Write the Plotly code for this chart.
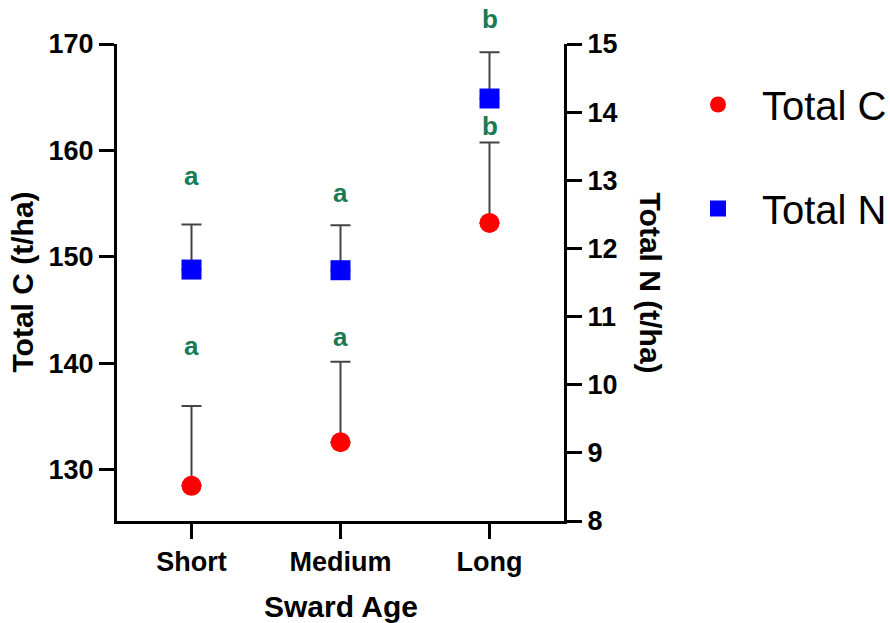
import plotly.graph_objects as go

# ---- data ----
categories = ["Short", "Medium", "Long"]
total_c = [128.5, 132.6, 153.2]          # t/ha, left axis
total_c_err = [7.5, 7.55, 7.55]          # upper error
total_n = [11.69, 11.68, 14.20]          # t/ha, right axis
total_n_err = [0.66, 0.66, 0.68]
letters_c = ["a", "a", "b"]
letters_c_pos = [141.6, 142.5, 162.3]    # label positions on C axis
letters_n = ["a", "a", "b"]
letters_n_pos = [13.06, 12.81, 15.37]    # label positions on N axis

left_ticks = [130, 140, 150, 160, 170]
right_ticks = [8, 9, 10, 11, 12, 13, 14, 15]
c_range = [125.2, 170]
n_range = [8, 15]

FONT = "Liberation Sans, Arial, sans-serif"
GREEN = "#1a7a52"

W, H = 890, 623
ML, MR, MT, MB = 117, 326, 44, 102
PW, PH = W - ML - MR, H - MT - MB


def px_x(px):
    return (px - ML) / PW


def px_y(py):
    return (H - MB - py) / PH


def to_paper(v, rng):
    return (v - rng[0]) / (rng[1] - rng[0])


fig = go.Figure()

fig.add_trace(go.Scatter(
    x=categories, y=total_c, name="Total C", mode="markers",
    marker=dict(symbol="circle", size=20, color="#ff0000"),
    error_y=dict(type="data", symmetric=False, array=total_c_err,
                 arrayminus=[0, 0, 0], color="#444444", thickness=2, width=10),
    legendgroup="c", yaxis="y",
))
fig.add_trace(go.Scatter(
    x=categories, y=total_n, name="Total N", mode="markers",
    marker=dict(symbol="square", size=20, color="#0000ff"),
    error_y=dict(type="data", symmetric=False, array=total_n_err,
                 arrayminus=[0, 0, 0], color="#444444", thickness=2, width=10),
    legendgroup="n", yaxis="y2",
))

letter_font = dict(family=FONT, size=26, color=GREEN, weight="bold")
annotations = []
for cat, lt, yv in zip(categories, letters_c, letters_c_pos):
    annotations.append(dict(x=cat, y=to_paper(yv, c_range), xref="x", yref="paper",
                            text=lt, showarrow=False, yanchor="middle", font=letter_font))
for cat, lt, yv in zip(categories, letters_n, letters_n_pos):
    annotations.append(dict(x=cat, y=to_paper(yv, n_range), xref="x", yref="paper",
                            text=lt, showarrow=False, yanchor="middle", font=letter_font))

title_font = dict(family=FONT, size=30, color="black", weight="bold")
annotations.append(dict(text="Sward Age", x=0.5, y=px_y(606), xref="paper", yref="paper",
                        showarrow=False, xanchor="center", yanchor="middle", font=title_font))
annotations.append(dict(text="Total C (t/ha)", x=px_x(22), y=0.5, xref="paper", yref="paper",
                        textangle=-90, showarrow=False, xanchor="center", yanchor="middle",
                        font=title_font))
annotations.append(dict(text="Total N (t/ha)", x=px_x(650), y=0.5, xref="paper", yref="paper",
                        textangle=90, showarrow=False, xanchor="center", yanchor="middle",
                        font=title_font))

axis_common = dict(showgrid=False, zeroline=False, showline=True, linecolor="black",
                   linewidth=3, ticks="outside", ticklen=15, tickwidth=3, tickcolor="black",
                   tickfont=dict(family=FONT, size=27, color="black", weight="bold"))

fig.update_layout(
    width=W, height=H,
    margin=dict(l=ML, r=MR, t=MT, b=MB, autoexpand=False),
    paper_bgcolor="white", plot_bgcolor="white",
    showlegend=True,
    legend=dict(x=px_x(674), y=px_y(72), xanchor="left", yanchor="top",
                font=dict(family=FONT, size=40, color="black"),
                itemwidth=78, tracegroupgap=49, bgcolor="rgba(0,0,0,0)"),
    xaxis=dict(type="category", categoryorder="array", categoryarray=categories,
               range=[-0.5, 2.5], **axis_common),
    yaxis=dict(range=c_range, tickvals=left_ticks, **axis_common),
    yaxis2=dict(range=n_range, tickvals=right_ticks, overlaying="y", side="right",
                anchor="x", **axis_common),
    annotations=annotations,
)

fig.write_html("out.html")
